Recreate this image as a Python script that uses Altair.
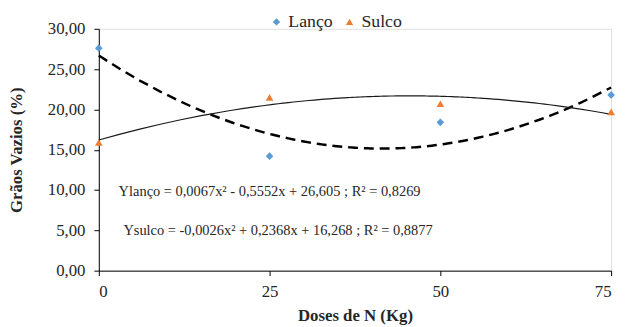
import altair as alt
import pandas as pd

doses = [0, 25, 50, 75]
lanco = [27.6, 14.2, 18.4, 21.8]
sulco = [15.9, 21.5, 20.7, 19.7]
series_names = ["Lanço", "Sulco"]
eq_lanco = "Ylanço = 0,0067x² - 0,5552x + 26,605 ; R² = 0,8269"
eq_sulco = "Ysulco = -0,0026x² + 0,2368x + 16,268 ; R² = 0,8877"

df = pd.DataFrame({
    "dose": doses * 2,
    "valor": lanco + sulco,
    "serie": [series_names[0]] * 4 + [series_names[1]] * 4,
})

FONT = "Liberation Serif"
TXT = "#262626"

xscale = alt.Scale(domain=[0, 75], nice=False, zero=False)
yscale = alt.Scale(domain=[0, 30], nice=False)

xaxis = alt.Axis(values=doses, title="Doses de N (Kg)", grid=False,
                 labelFont=FONT, labelFontSize=17, labelColor=TXT,
                 titleFont=FONT, titleFontSize=17, titleFontWeight="bold",
                 titleColor=TXT, domainColor="black", tickColor="black",
                 tickSize=5, labelPadding=8, titlePadding=9)
yaxis = alt.Axis(values=[0, 5, 10, 15, 20, 25, 30], title="Grãos Vazios (%)", grid=False,
                 labelExpr="replace(format(datum.value, '.2f'), '.', ',')",
                 labelFont=FONT, labelFontSize=17, labelColor=TXT,
                 titleFont=FONT, titleFontSize=17, titleFontWeight="bold",
                 titleColor=TXT, domainColor="black", tickColor="black",
                 tickSize=5, labelPadding=9, titlePadding=22)

base = alt.Chart(df)

fit_lanco = base.transform_filter(alt.datum.serie == "Lanço").transform_regression(
    "dose", "valor", method="poly", order=2
).mark_line(color="black", strokeWidth=2.5, strokeDash=[10, 6]).encode(
    x=alt.X("dose:Q", scale=xscale, axis=xaxis),
    y=alt.Y("valor:Q", scale=yscale, axis=yaxis),
)

fit_sulco = base.transform_filter(alt.datum.serie == "Sulco").transform_regression(
    "dose", "valor", method="poly", order=2
).mark_line(color="#1a1a1a", strokeWidth=1.2).encode(
    x=alt.X("dose:Q", scale=xscale),
    y=alt.Y("valor:Q", scale=yscale),
)

leg = alt.Legend(title=None, orient="none", direction="horizontal",
                 legendX=171, legendY=-16, labelFont=FONT,
                 labelFontSize=18, labelColor=TXT,
                 symbolSize=55, columnPadding=8, labelOffset=3)

points = base.mark_point(filled=True, opacity=1, size=60).encode(
    x=alt.X("dose:Q", scale=xscale),
    y=alt.Y("valor:Q", scale=yscale),
    color=alt.Color("serie:N", scale=alt.Scale(domain=series_names, range=["#5B9BD5", "#ED7D31"]),
                    legend=leg),
    shape=alt.Shape("serie:N", scale=alt.Scale(domain=series_names, range=["diamond", "triangle-up"]),
                    legend=leg),
)

text1 = alt.Chart(pd.DataFrame({"t": [eq_lanco]})).mark_text(
    align="left", baseline="middle", font=FONT, fontSize=14.6, color=TXT
).encode(x=alt.datum(2.9), y=alt.datum(9.8), text="t:N")

text2 = alt.Chart(pd.DataFrame({"t": [eq_sulco]})).mark_text(
    align="left", baseline="middle", font=FONT, fontSize=14.6, color=TXT
).encode(x=alt.datum(3.6), y=alt.datum(4.9), text="t:N")

chart = alt.layer(fit_lanco, fit_sulco, points, text1, text2).properties(
    width=519, height=245,
    padding={"left": 92, "top": 19, "right": 9, "bottom": 55},
    autosize=alt.AutoSizeParams(type="none"),
).configure_view(stroke=None).configure(background="white")

chart.save("out.html", embed_options={"renderer": "svg", "actions": False})
